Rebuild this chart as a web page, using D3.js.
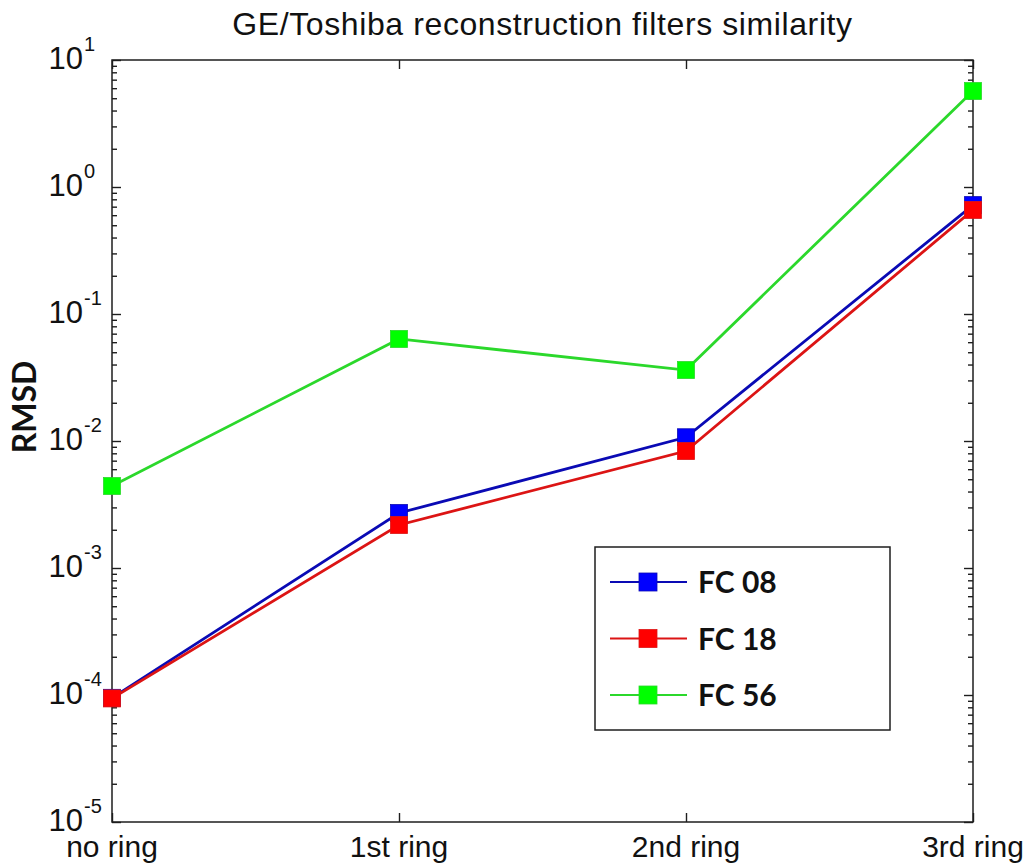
<!DOCTYPE html>
<html>
<head>
<meta charset="utf-8">
<script src="https://cdn.jsdelivr.net/npm/d3@7"></script>
<style>
  html, body { margin: 0; padding: 0; background: #fff; }
  svg { display: block; }
</style>
</head>
<body>
<svg id="chart" width="1033" height="867"></svg>
<script>
// Ring positions along the x axis
const categories = ["no ring", "1st ring", "2nd ring", "3rd ring"];

// RMSD per reconstruction filter
const fc08 = [9.5e-5, 0.00271, 0.0107, 0.72];
const fc18 = [9.4e-5, 0.00218, 0.00834, 0.66];
const fc56 = [0.00442, 0.0636, 0.0362, 5.7];

const seriesNames = ["FC 08", "FC 18", "FC 56"];
const seriesValues = [fc08, fc18, fc56];
const markerColors = ["#0000ff", "#ff0000", "#00ff00"];
const lineColors = ["#0a0ab4", "#dc1414", "#2bd82b"];

// Decade exponents for the y tick labels
const decadeExponents = [-5, -4, -3, -2, -1, 0, 1];

const svg = d3.select("#chart");
const plot = { left: 112, right: 973, top: 60, bottom: 822 };

const x = d3.scalePoint().domain(categories).range([plot.left, plot.right]);
const y = d3.scaleLog().domain([1e-5, 10]).range([plot.bottom, plot.top]);

const majorTicks = decadeExponents.map(e => Math.pow(10, e));
const minorTicks = [];
decadeExponents.slice(0, -1).forEach(e => {
  for (let m = 2; m <= 9; m++) minorTicks.push(m * Math.pow(10, e));
});

const axisColor = "#1e1e1e";

function styleAxis(g) {
  g.select(".domain").remove();
  g.selectAll(".tick line").attr("stroke", axisColor).attr("stroke-width", 1.4);
  g.selectAll(".tick text").remove();
}

// Inward ticks on all four sides
svg.append("g").attr("transform", `translate(${plot.left},0)`)
  .call(d3.axisLeft(y).tickValues(majorTicks).tickSize(-9)).call(styleAxis);
svg.append("g").attr("transform", `translate(${plot.left},0)`)
  .call(d3.axisLeft(y).tickValues(minorTicks).tickSize(-5)).call(styleAxis);
svg.append("g").attr("transform", `translate(${plot.right},0)`)
  .call(d3.axisRight(y).tickValues(majorTicks).tickSize(-9)).call(styleAxis);
svg.append("g").attr("transform", `translate(${plot.right},0)`)
  .call(d3.axisRight(y).tickValues(minorTicks).tickSize(-5)).call(styleAxis);
svg.append("g").attr("transform", `translate(0,${plot.bottom})`)
  .call(d3.axisBottom(x).tickSize(-9)).call(styleAxis);
svg.append("g").attr("transform", `translate(0,${plot.top})`)
  .call(d3.axisTop(x).tickSize(-9)).call(styleAxis);

// Axes box
svg.append("rect")
  .attr("x", plot.left).attr("y", plot.top)
  .attr("width", plot.right - plot.left).attr("height", plot.bottom - plot.top)
  .attr("fill", "none").attr("stroke", axisColor).attr("stroke-width", 1.5);

// y tick labels: 10 with a superscript exponent
const yLabels = svg.append("g")
  .attr("font-family", "'Liberation Sans', Arial, sans-serif")
  .attr("fill", "#111");
decadeExponents.forEach(e => {
  const yy = y(Math.pow(10, e)) + 9;
  yLabels.append("text")
    .attr("x", 83).attr("y", yy)
    .attr("text-anchor", "end")
    .attr("font-size", 31)
    .text("10");
  yLabels.append("text")
    .attr("x", 84).attr("y", yy - 18)
    .attr("font-size", 20)
    .text(String(e));
});

// x tick labels
svg.append("g")
  .attr("font-family", "'Liberation Sans', Arial, sans-serif")
  .attr("font-size", 30)
  .attr("fill", "#111")
  .selectAll("text")
  .data(categories)
  .join("text")
  .attr("x", d => x(d))
  .attr("y", 857)
  .attr("text-anchor", "middle")
  .text(d => d);

// Title
svg.append("text")
  .attr("x", (plot.left + plot.right) / 2)
  .attr("y", 35)
  .attr("text-anchor", "middle")
  .attr("font-family", "'Liberation Sans', Arial, sans-serif")
  .attr("font-size", 32)
  .attr("letter-spacing", 0.6)
  .attr("fill", "#111")
  .text("GE/Toshiba reconstruction filters similarity");

// y axis label
svg.append("text")
  .attr("transform", "translate(36,407) rotate(-90)")
  .attr("text-anchor", "middle")
  .attr("font-family", "Lato, 'Open Sans', sans-serif")
  .attr("font-weight", "bold")
  .attr("font-size", 32)
  .attr("fill", "#111")
  .text("RMSD");

// Series lines and square markers
const line = d3.line()
  .x((d, i) => x(categories[i]))
  .y(d => y(d));

const markerSize = 17;
seriesValues.forEach((vals, s) => {
  const g = svg.append("g");
  g.append("path")
    .datum(vals)
    .attr("d", line)
    .attr("fill", "none")
    .attr("stroke", lineColors[s])
    .attr("stroke-width", 2.8);
  g.selectAll("rect")
    .data(vals)
    .join("rect")
    .attr("x", (d, i) => x(categories[i]) - markerSize / 2)
    .attr("y", d => y(d) - markerSize / 2)
    .attr("width", markerSize)
    .attr("height", markerSize)
    .attr("fill", markerColors[s])
    .attr("stroke", lineColors[s])
    .attr("stroke-width", 0.8);
});

// Legend
const legend = { x: 595, y: 547, w: 295, h: 183 };
const lg = svg.append("g");
lg.append("rect")
  .attr("x", legend.x).attr("y", legend.y)
  .attr("width", legend.w).attr("height", legend.h)
  .attr("fill", "#fff").attr("stroke", axisColor).attr("stroke-width", 1.5);

const rowY = d3.scalePoint().domain(seriesNames).range([582, 695]);
seriesNames.forEach((name, s) => {
  const cy = rowY(name);
  lg.append("line")
    .attr("x1", 610).attr("x2", 687)
    .attr("y1", cy).attr("y2", cy)
    .attr("stroke", lineColors[s]).attr("stroke-width", 2.2);
  lg.append("rect")
    .attr("x", 648 - 9).attr("y", cy - 9)
    .attr("width", 18).attr("height", 18)
    .attr("fill", markerColors[s])
    .attr("stroke", lineColors[s]).attr("stroke-width", 0.8);
  lg.append("text")
    .attr("x", 698).attr("y", cy + 11)
    .attr("font-family", "Lato, 'Open Sans', sans-serif")
    .attr("font-weight", "bold")
    .attr("font-size", 30)
    .attr("fill", "#111")
    .text(name);
});
</script>
</body>
</html>
